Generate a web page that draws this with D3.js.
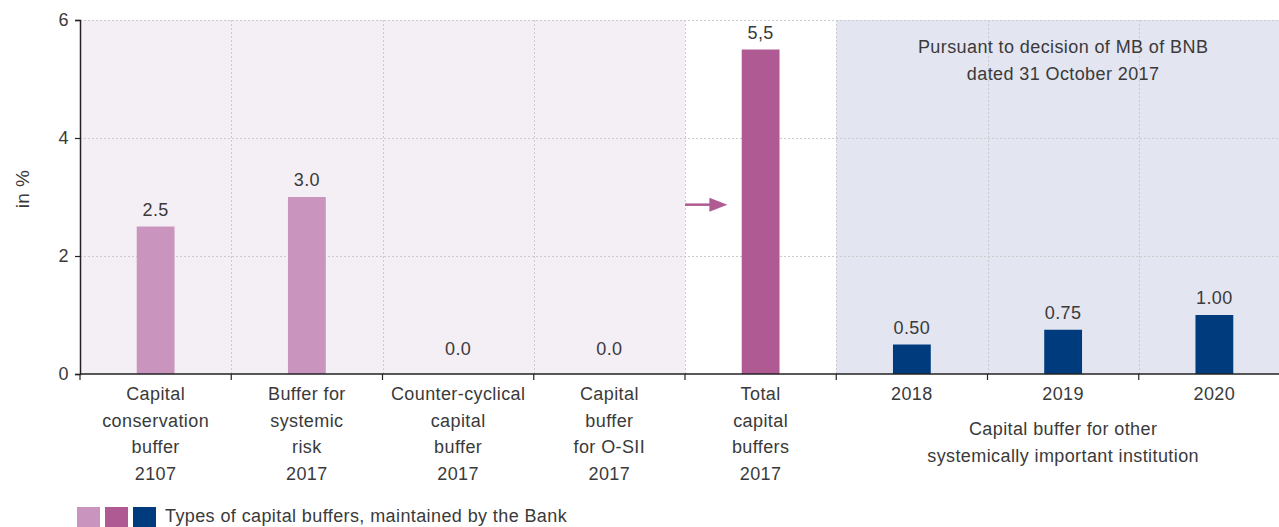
<!DOCTYPE html>
<html>
<head>
<meta charset="utf-8">
<script src="https://cdn.jsdelivr.net/npm/d3@7/dist/d3.min.js"></script>
<style>
  html, body { margin: 0; padding: 0; background: #fff; overflow: hidden; }
  text { font-family: "Liberation Sans", Arial, sans-serif; fill: #3a3a3a; letter-spacing: 0.4px; }
</style>
</head>
<body>
<svg id="chart" width="1279" height="527"></svg>
<script>
// Category labels (multi-line) and values
const categories = [
  ["Capital", "conservation", "buffer", "2107"],
  ["Buffer for", "systemic", "risk", "2017"],
  ["Counter-cyclical", "capital", "buffer", "2017"],
  ["Capital", "buffer", "for O-SII", "2017"],
  ["Total", "capital", "buffers", "2017"],
  ["2018"],
  ["2019"],
  ["2020"]
];
const values = [2.5, 3.0, 0.0, 0.0, 5.5, 0.50, 0.75, 1.00];
const valueLabels = ["2.5", "3.0", "0.0", "0.0", "5,5", "0.50", "0.75", "1.00"];
const barGroup = [0, 0, 0, 0, 1, 2, 2, 2];
const yTicks = [0, 2, 4, 6];
const legendText = "Types of capital buffers, maintained by the Bank";
const groupNote = ["Capital buffer for other", "systemically important institution"];
const decisionNote = ["Pursuant to decision of MB of BNB", "dated 31 October 2017"];

const colors = ["#c994bd", "#b05a93", "#003c7d"];

const svg = d3.select("#chart");
const plotLeft = 80, plotRight = 1290, plotTop = 20, plotBottom = 374;
const fs = 18;

const x = d3.scaleBand().domain(d3.range(categories.length)).range([plotLeft, plotRight]).paddingInner(0).paddingOuter(0);
const y = d3.scaleLinear().domain([0, 6]).range([plotBottom, plotTop]);
const bw = x.bandwidth();
const barW = bw * 0.25;

// Background panels
const panels = [
  { from: 0, to: 3, fill: "#f4eef5" },
  { from: 5, to: 7, fill: "#e3e5f1" }
];
svg.append("g").selectAll("rect").data(panels).join("rect")
  .attr("x", d => x(d.from))
  .attr("y", y(6))
  .attr("width", d => x(d.to) + bw - x(d.from))
  .attr("height", y(0) - y(6))
  .attr("fill", d => d.fill);

// Grid lines
const grid = svg.append("g").attr("stroke", "#cbcbcb").attr("stroke-width", 1).attr("stroke-dasharray", "2,2");
grid.selectAll("line.h").data(yTicks.filter(t => t > 0)).join("line")
  .attr("class", "h")
  .attr("x1", plotLeft).attr("x2", plotRight)
  .attr("y1", d => Math.round(y(d)) + 0.5).attr("y2", d => Math.round(y(d)) + 0.5);
grid.selectAll("line.v").data(d3.range(1, categories.length)).join("line")
  .attr("class", "v")
  .attr("x1", d => Math.round(x(d)) + 0.5).attr("x2", d => Math.round(x(d)) + 0.5)
  .attr("y1", y(6)).attr("y2", y(0));

// Bars
svg.append("g").selectAll("rect").data(values).join("rect")
  .attr("x", (d, i) => x(i) + bw / 2 - barW / 2)
  .attr("y", d => y(d))
  .attr("width", barW)
  .attr("height", d => y(0) - y(d))
  .attr("fill", (d, i) => colors[barGroup[i]]);

// Value labels (zero values sit a little higher above the baseline)
svg.append("g").selectAll("text").data(values).join("text")
  .attr("x", (d, i) => x(i) + bw / 2)
  .attr("y", d => Math.min(y(d) - 11, y(0) - 19))
  .attr("text-anchor", "middle")
  .attr("font-size", fs)
  .text((d, i) => valueLabels[i]);

// Y axis
const yAxis = d3.axisLeft(y).tickValues(yTicks).tickSize(5).tickPadding(6).tickFormat(d3.format("d"));
const gy = svg.append("g").attr("transform", `translate(${plotLeft},0)`).call(yAxis);
gy.select(".domain").attr("stroke", "#222").attr("stroke-width", 1.5);
gy.selectAll(".tick line").attr("stroke", "#222").attr("stroke-width", 1.2);
gy.selectAll(".tick text").attr("font-size", fs).attr("fill", "#3a3a3a")
  .style("font-family", "'Liberation Sans', Arial, sans-serif");

// X axis: baseline and boundary ticks
const gx = svg.append("g");
gx.append("line").attr("x1", plotLeft).attr("x2", plotRight).attr("y1", plotBottom).attr("y2", plotBottom)
  .attr("stroke", "#222").attr("stroke-width", 1.5);
gx.selectAll("line.t").data(d3.range(0, categories.length)).join("line")
  .attr("class", "t")
  .attr("x1", d => x(d)).attr("x2", d => x(d))
  .attr("y1", plotBottom).attr("y2", plotBottom + 6)
  .attr("stroke", "#222").attr("stroke-width", 1.2);

// Category labels
const lineH = 26.5;
svg.append("g").selectAll("text").data(categories).join("text")
  .attr("text-anchor", "middle")
  .attr("font-size", fs)
  .attr("transform", (d, i) => `translate(${x(i) + bw / 2},${plotBottom + 26})`)
  .selectAll("tspan").data(d => d).join("tspan")
  .attr("x", 0)
  .attr("y", (d, j) => j * lineH)
  .text(d => d);

// Group note under the 2018–2020 categories
const groupCx = (x(5) + x(7) + bw) / 2;
svg.append("text").attr("text-anchor", "middle").attr("font-size", fs)
  .selectAll("tspan").data(groupNote).join("tspan")
  .attr("x", groupCx).attr("y", (d, j) => 435 + j * 27).text(d => d);

// Decision note at the top of the right panel
svg.append("text").attr("text-anchor", "middle").attr("font-size", fs)
  .selectAll("tspan").data(decisionNote).join("tspan")
  .attr("x", groupCx).attr("y", (d, j) => 53 + j * 27).text(d => d);

// Y axis title
svg.append("text").attr("text-anchor", "middle").attr("font-size", 19)
  .attr("transform", `translate(29,${(plotTop + plotBottom) / 2 - 8}) rotate(-90)`)
  .text("in %");

// Arrow pointing to the total bar
const arrowY = y(2.87);
const ax0 = x(4), ax1 = x(4) + bw * 0.28;
svg.append("line").attr("x1", ax0).attr("x2", ax1 - 14).attr("y1", arrowY).attr("y2", arrowY)
  .attr("stroke", colors[1]).attr("stroke-width", 2.5);
svg.append("path")
  .attr("d", `M${ax1 - 18},${arrowY - 7}L${ax1},${arrowY}L${ax1 - 18},${arrowY + 7}Z`)
  .attr("fill", colors[1]);

// Legend
const lg = svg.append("g");
lg.selectAll("rect").data(colors).join("rect")
  .attr("x", (d, i) => 77 + i * 28)
  .attr("y", 507)
  .attr("width", 23).attr("height", 23)
  .attr("fill", d => d);
lg.append("text").attr("x", 165).attr("y", 522).attr("font-size", fs).text(legendText);
</script>
</body>
</html>
